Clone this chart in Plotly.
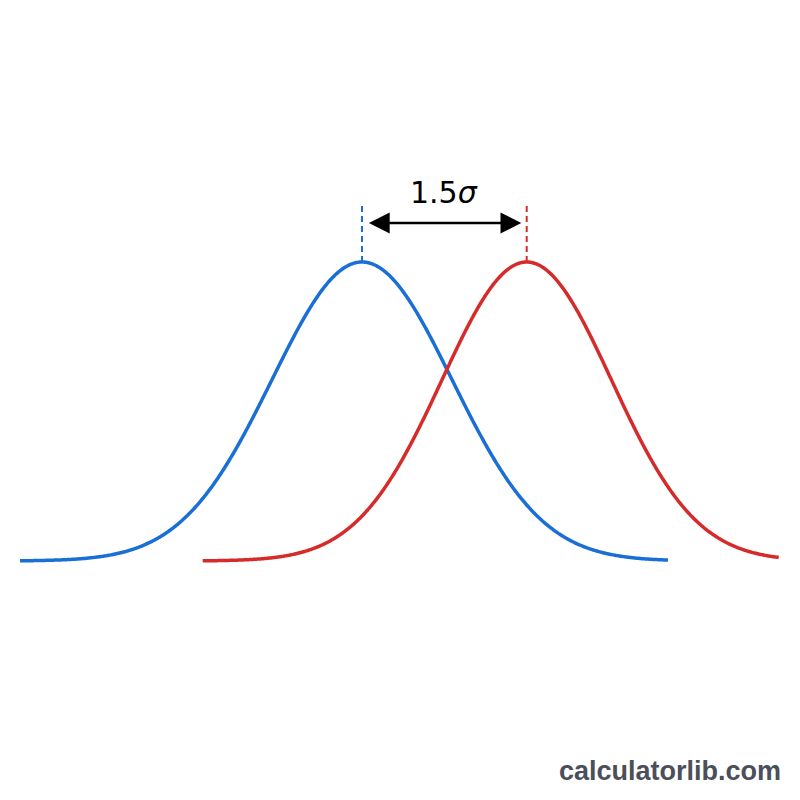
import numpy as np
import plotly.graph_objects as go

# Parameters (x in units of sigma, heights normalised to peak = 1)
sigma_blue = 1.0
sigma_red = 0.94
mu_blue = 0.0
mu_red = 1.83
blue_span = [-3.8, 3.4]   # relative to mean (in units of sigma_blue)
red_span = [-3.6, 2.8]    # relative to mean (in units of sigma_blue)
label_text = "1.5<i>σ</i>"
watermark = "calculatorlib.com"

blue_color = "#1a6fd6"
red_color = "#d62b2b"

def curve(mu, sigma, span):
    x = np.linspace(mu + span[0], mu + span[1], 600)
    y = np.exp(-0.5 * ((x - mu) / sigma) ** 2)
    return x, y

bx, by = curve(mu_blue, sigma_blue, blue_span)
rx, ry = curve(mu_red, sigma_red, red_span)

fig = go.Figure()
fig.add_trace(go.Scatter(x=bx, y=by, mode="lines",
                         line=dict(color=blue_color, width=3.5, simplify=False),
                         hoverinfo="skip", showlegend=False))
fig.add_trace(go.Scatter(x=rx, y=ry, mode="lines",
                         line=dict(color=red_color, width=3.5, simplify=False),
                         hoverinfo="skip", showlegend=False))

px = 90.0  # pixels per sigma
x0 = -362 / px
x1 = (800 - 362) / px
py = 299.0
y0 = (561 - 800) / py
y1 = 561 / py

top = (561 - 205) / py
fig.add_shape(type="line", x0=mu_blue, x1=mu_blue, y0=1.0, y1=top,
              line=dict(color=blue_color, width=2, dash="6px,4px"))
fig.add_shape(type="line", x0=mu_red, x1=mu_red, y0=1.0, y1=top,
              line=dict(color=red_color, width=2, dash="6px,4px"))

ya = (561 - 223) / py
fig.add_annotation(x=mu_red - 0.06, y=ya, ax=mu_blue + 0.06, ay=ya,
                   xref="x", yref="y", axref="x", ayref="y",
                   text="", showarrow=True, arrowhead=2, arrowside="end+start",
                   arrowsize=1.6, arrowwidth=2.6, arrowcolor="black")
fig.add_annotation(x=(mu_blue + mu_red) / 2, y=(561 - 192) / py, xref="x", yref="y",
                   text=label_text, showarrow=False,
                   font=dict(family="DejaVu Sans", size=30, color="black"))
fig.add_annotation(x=1, y=0, xref="paper", yref="paper", xanchor="right", yanchor="bottom",
                   xshift=-17, yshift=12,
                   text="<b>" + watermark + "</b>", showarrow=False,
                   font=dict(family="Liberation Sans", size=27, color="#4a4f5a"))

fig.update_layout(
    width=800, height=800,
    margin=dict(l=0, r=0, t=0, b=0),
    paper_bgcolor="white", plot_bgcolor="white",
    xaxis=dict(range=[x0, x1], visible=False, fixedrange=True),
    yaxis=dict(range=[y0, y1], visible=False, fixedrange=True),
)
fig.write_html("out.html")
